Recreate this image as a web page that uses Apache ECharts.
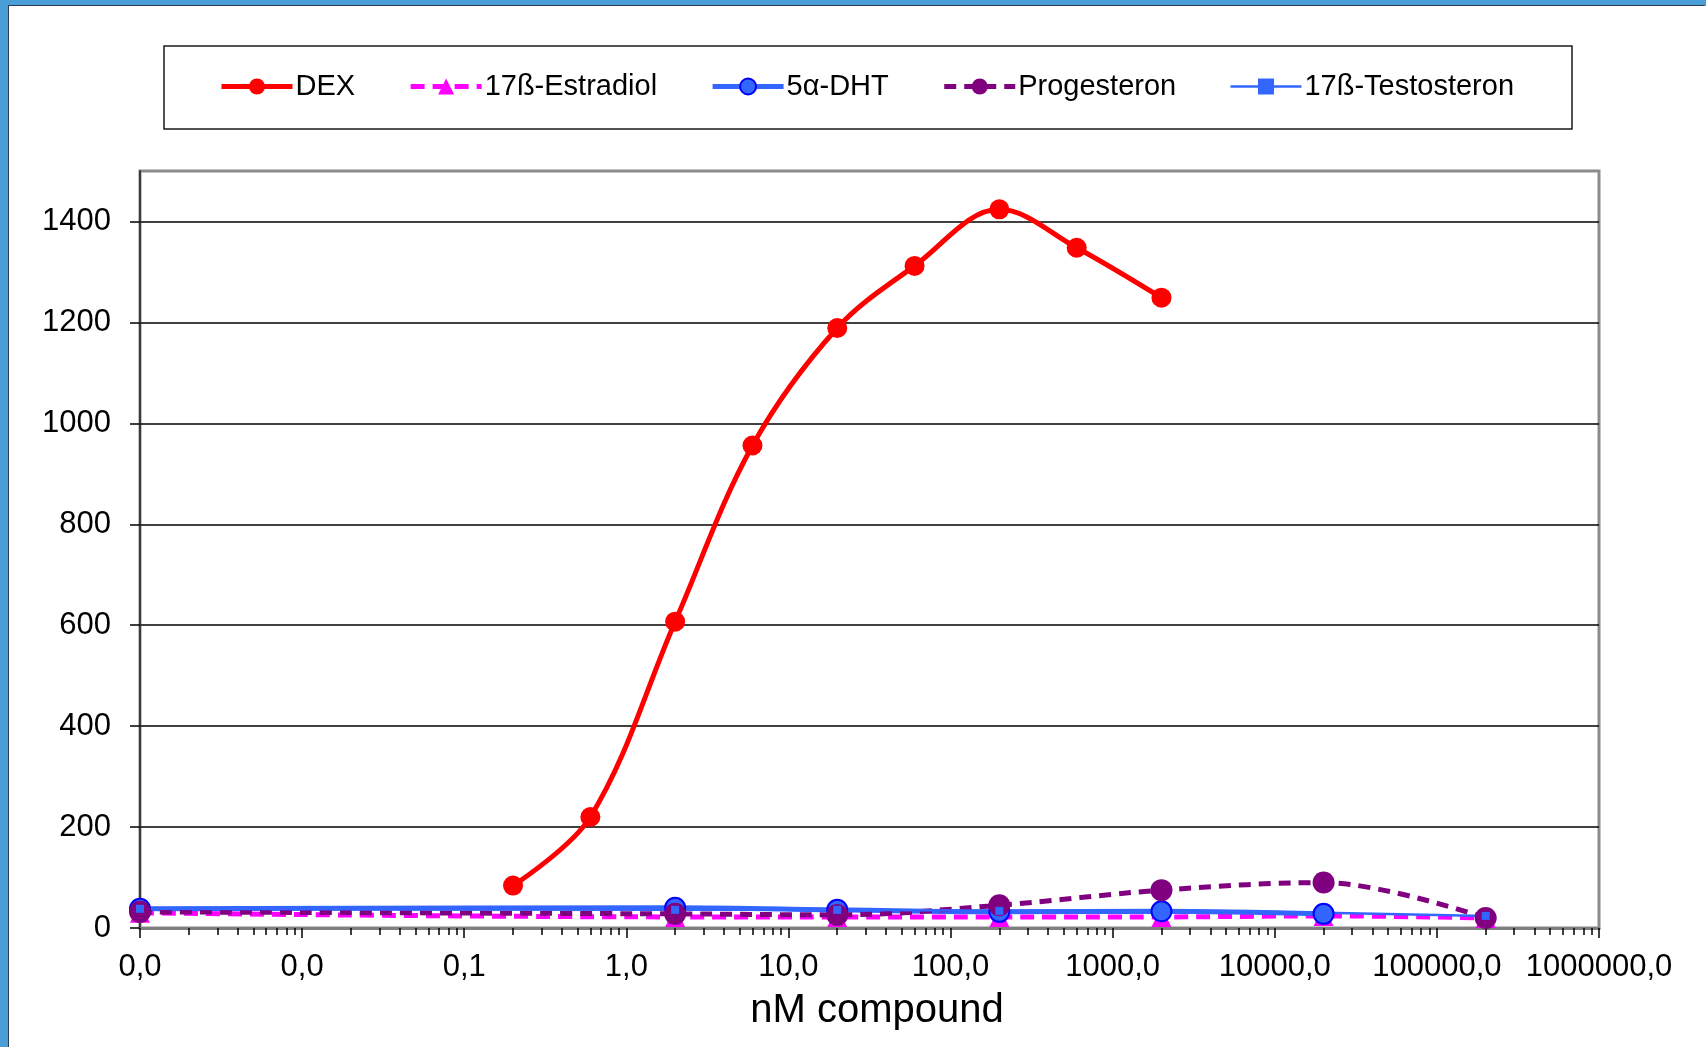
<!DOCTYPE html>
<html>
<head>
<meta charset="utf-8">
<script src="https://cdn.jsdelivr.net/npm/echarts@6/dist/echarts.min.js"></script>
<style>
  html, body { margin: 0; padding: 0; width: 1706px; height: 1047px; overflow: hidden; background: #4a9ed8; }
  #frame { position: absolute; left: 8px; top: 5px; width: 1697px; height: 1042px; background: #fff;
           border-top: 1px solid #2d3b4a; border-left: 1px solid #2d3b4a; border-right: 1px solid #8a8a8a; box-sizing: border-box; }
  #chart { position: absolute; left: 0; top: 0; width: 1697px; height: 1042px; }
</style>
</head>
<body>
<div id="frame"><div id="chart"></div></div>
<script>
// ---- data ----
const dexX = [0.2, 0.6, 2, 6, 20, 60, 200, 600, 2000];
const dexY = [84, 220, 607, 956, 1189, 1312, 1424, 1348, 1249];

const otherX = [0.001, 2, 20, 200, 2000, 20000, 200000];
const estradiolY = [30, 22, 22, 22, 22, 24, 20];
const dhtY = [38, 40, 36, 32, 33, 28, null];
const progesteronY = [32, 28, 26, 45, 75, 90, 20];
const testosteronY = [38, 36, 36, 34, 34, 30, 24];

const seriesNames = ['DEX', '17ß-Estradiol', '5α-DHT', 'Progesteron', '17ß-Testosteron'];
const yTicks = [0, 200, 400, 600, 800, 1000, 1200, 1400];
const xMin = 0.001, xMax = 1000000;

function pairs(xs, ys) {
  const out = [];
  for (let i = 0; i < xs.length; i++) if (ys[i] !== null) out.push([xs[i], ys[i]]);
  return out;
}

const chart = echarts.init(document.getElementById('chart'));
const FONT = 'Liberation Sans, Arial, sans-serif';
const legendWidths = [5, 5, 5, 5, 2.5];

const option = {
  animation: false,
  backgroundColor: '#fff',
  textStyle: { fontFamily: FONT },
  graphic: [{
    type: 'rect', z: -10,
    shape: { x: 155, y: 40, width: 1408, height: 83 },
    style: { fill: '#fff', stroke: '#1a1a1a', lineWidth: 1.5 }
  }],
  legend: {
    data: seriesNames.map((n, i) => ({ name: n, lineStyle: { width: legendWidths[i] } })),
    left: 210, top: 66,
    itemWidth: 71, itemHeight: 20, itemGap: 53,
    padding: 0,
    textStyle: { fontSize: 29, color: '#000', fontFamily: FONT, padding: [0, 0, 0, -2] }
  },
  grid: {
    left: 131, top: 165, right: 107, bottom: 120,
    show: true, borderColor: '#8c8c8c', borderWidth: 3, backgroundColor: 'transparent'
  },
  xAxis: {
    type: 'log', logBase: 10, min: xMin, max: xMax, splitNumber: 10,
    name: 'nM compound', nameLocation: 'middle', nameGap: 63,
    nameTextStyle: { fontSize: 40, color: '#000', fontFamily: FONT, padding: [0, 0, 0, 15] },
    axisLine: { show: true, lineStyle: { color: '#7f7f7f', width: 3 } },
    axisTick: { show: true, length: 10, lineStyle: { color: '#000', width: 1.5 } },
    minorTick: { show: true, splitNumber: 9, length: 7, lineStyle: { color: '#000', width: 1.5 } },
    axisLabel: {
      fontSize: 31, color: '#000', margin: 24, fontFamily: FONT,
      formatter: v => Number(v).toFixed(1).replace('.', ',')
    },
    splitLine: { show: false }
  },
  yAxis: {
    type: 'value', min: 0, max: 1500, interval: 200,
    axisLine: { show: true, lineStyle: { color: '#3a3a3a', width: 2 } },
    axisTick: { show: true, length: 10, customValues: yTicks, lineStyle: { color: '#000', width: 1.5 } },
    axisLabel: { fontSize: 31, color: '#000', margin: 29, customValues: yTicks, fontFamily: FONT,
      formatter: v => String(v) },
    splitLine: { show: true, lineStyle: { color: '#000', width: 1.5 } }
  },
  series: [
    {
      name: seriesNames[0], type: 'line', smooth: 0.35, data: pairs(dexX, dexY),
      symbol: 'circle', symbolSize: 20, color: '#ff0000',
      lineStyle: { color: '#ff0000', width: 5 }, itemStyle: { color: '#ff0000' }
    },
    {
      name: seriesNames[1], type: 'line', smooth: 0.35, data: pairs(otherX, estradiolY),
      symbol: 'triangle', symbolSize: 20, color: '#ff00ff',
      lineStyle: { color: '#ff00ff', width: 5, type: [14, 8] }, itemStyle: { color: '#ff00ff' }
    },
    {
      name: seriesNames[2], type: 'line', smooth: 0.35, data: pairs(otherX, dhtY),
      symbol: 'circle', symbolSize: 20, color: '#3366ff',
      lineStyle: { color: '#3366ff', width: 5 }, itemStyle: { color: '#3366ff', borderColor: '#0000ff', borderWidth: 2 }
    },
    {
      name: seriesNames[3], type: 'line', smooth: 0.35, data: pairs(otherX, progesteronY),
      symbol: 'circle', symbolSize: 22, color: '#800080',
      lineStyle: { color: '#800080', width: 5, type: [12, 8] }, itemStyle: { color: '#800080' }
    },
    {
      name: seriesNames[4], type: 'line', smooth: 0.35, data: pairs(otherX, testosteronY),
      symbol: 'rect', symbolSize: 8, color: '#3366ff',
      lineStyle: { color: '#3366ff', width: 2.5 }, itemStyle: { color: '#3366ff' }
    }
  ]
};
chart.setOption(option);
</script>
</body>
</html>
